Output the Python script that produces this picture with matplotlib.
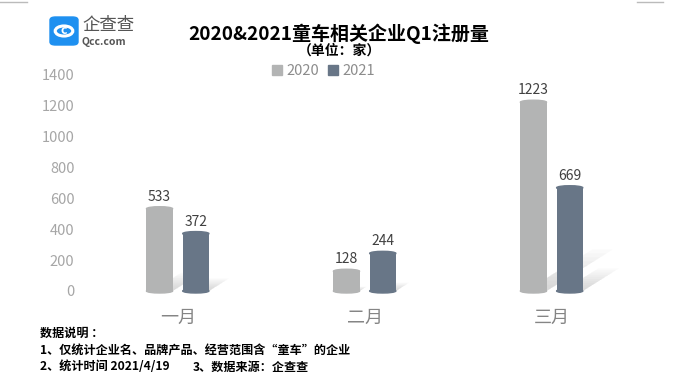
import numpy as np
import matplotlib
matplotlib.use('Agg')
import matplotlib.pyplot as plt
from matplotlib.patches import Ellipse, Polygon, FancyBboxPatch, Patch, Circle
from matplotlib.lines import Line2D

plt.rcParams['font.family'] = ['Noto Sans CJK SC', 'DejaVu Sans']

months = ['一月', '二月', '三月']
v2020 = [533, 128, 1223]
v2021 = [372, 244, 669]
series = ['2020', '2021']
colors = ['#B3B4B4', '#687687']

fig = plt.figure(figsize=(6.79, 3.88), dpi=100)
ax = fig.add_axes([0.124, 0.25, 0.826, 0.557])

x = np.arange(len(months))
w = 0.14
off = 0.097
ell_h = 26

for vals, dx, c in [(v2020, -off, colors[0]), (v2021, off, colors[1])]:
    bars = ax.bar(x + dx, vals, width=w, color=c, zorder=3)
    for b, v in zip(bars, vals):
        x0 = b.get_x()
        x1 = x0 + b.get_width()
        xc = x0 + b.get_width() / 2
        # soft shadow falling to the right
        sx = 0.00029 * v
        sy = 0.22 * v
        for f in np.linspace(1.0, 0.15, 10):
            poly = Polygon([(x0 + 0.03, 0), (x1, 0), (x1 + sx * f, sy * f),
                            (x0 + 0.03 + sx * f, sy * f)],
                           closed=True, color='#a0a0a0', alpha=0.045, lw=0, zorder=1)
            ax.add_patch(poly)
        ax.add_patch(Ellipse((xc, v), b.get_width(), ell_h, color=c, zorder=4, clip_on=False))
        ax.add_patch(Ellipse((xc, 0), b.get_width(), ell_h, color=c, zorder=3, clip_on=False))
        ax.text(xc, v + 32, str(v), ha='center', va='bottom', fontsize=10,
                color='#404040', zorder=5)

ax.set_xlim(-0.5, 2.5)
ax.set_ylim(0, 1400)
ax.set_yticks(range(0, 1401, 200))
ax.set_xticks(x)
ax.set_xticklabels(months, fontsize=13, color='#858585')
ax.tick_params(axis='x', length=0, pad=13)
ax.tick_params(axis='y', length=0, pad=7, labelsize=10.5, labelcolor='#A6A6A6')
for s in ax.spines.values():
    s.set_visible(False)

fig.text(0.4985, 0.912, '2020&2021童车相关企业Q1注册量', ha='center', va='center',
         fontsize=13.7, fontweight='bold', color='#000000')
fig.text(0.5, 0.87, '（单位：家）', ha='center', va='center', fontsize=10,
         fontweight='bold', color='#000000')

handles = [Patch(color=colors[0]), Patch(color=colors[1])]
fig.legend(handles, series, loc='center', bbox_to_anchor=(0.476, 0.817), ncol=2,
           frameon=False, fontsize=10.5, labelcolor='#8C8C8C', handlelength=0.7,
           handleheight=0.7, handletextpad=0.3, columnspacing=0.6)

# logo
fig.patches.append(FancyBboxPatch((50 / 679, 1 - 45 / 388), 28 / 679, 28 / 388,
                                  boxstyle='round,pad=0,rounding_size=0.008',
                                  transform=fig.transFigure, color='#1E90F0'))
fig.patches.append(Circle((64 / 679, 1 - 31 / 388), 0.013, transform=fig.transFigure,
                          fill=False, ec='white', lw=2.2))
fig.text(64 / 679, 1 - 31 / 388, 'c', ha='center', va='center', fontsize=9,
         fontweight='bold', color='white')
fig.text(82 / 679, 1 - 25 / 388, '企查查', ha='left', va='center', fontsize=12.5,
         color='#555555')
fig.text(82 / 679, 1 - 42 / 388, 'Qcc.com', ha='left', va='center', fontsize=7.5,
         color='#555555', fontweight='bold')

# corner marks
fig.add_artist(Line2D([0, 27 / 679], [1 - 1.5 / 388] * 2, color='#BBBBBB', lw=1))
fig.add_artist(Line2D([637 / 679, 663 / 679], [1 - 1.5 / 388] * 2, color='#BBBBBB', lw=1))

# notes
fs = 8.7
fig.text(40 / 679, 1 - 333 / 388, '数据说明 ：', ha='left', va='center', fontsize=fs,
         fontweight='bold')
fig.text(40 / 679, 1 - 351 / 388, '1、仅统计企业名、品牌产品、经营范围含“童车”的企业',
         ha='left', va='center', fontsize=fs, fontweight='bold')
fig.text(40 / 679, 1 - 367 / 388, '2、统计时间 2021/4/19', ha='left', va='center',
         fontsize=fs, fontweight='bold')
fig.text(193 / 679, 1 - 367 / 388, '3、数据来源：企查查', ha='left', va='center',
         fontsize=fs, fontweight='bold')

fig.savefig('out.png', dpi=100)
